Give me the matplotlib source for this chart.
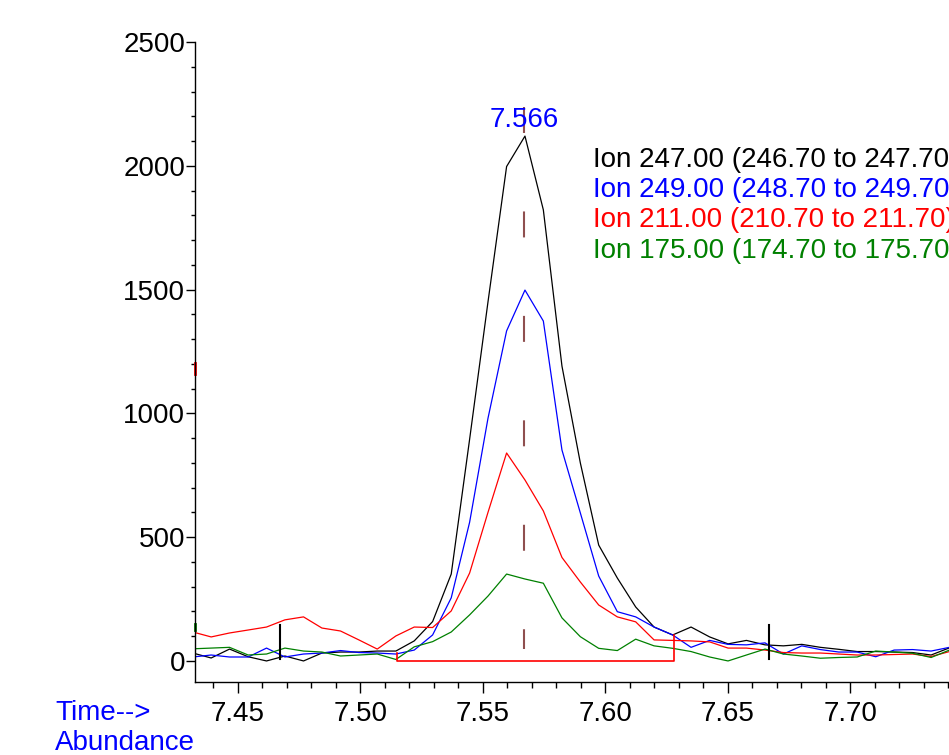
import numpy as np
import matplotlib
matplotlib.use("Agg")
import matplotlib.pyplot as plt
from matplotlib.ticker import MultipleLocator

plt.rcParams['font.family'] = ['Liberation Sans', 'DejaVu Sans']
plt.rcParams['lines.scale_dashes'] = False

# -----------------------------
# Data
# -----------------------------
times = [7.4316, 7.4391, 7.4466, 7.4542, 7.4617, 7.4692, 7.4768, 7.4843,
         7.4919, 7.4994, 7.5069, 7.5145, 7.5220, 7.5295, 7.5371, 7.5446,
         7.5521, 7.5597, 7.5672, 7.5747, 7.5823, 7.5898, 7.5973, 7.6049,
         7.6124, 7.6199, 7.6275, 7.6350, 7.6426, 7.6501, 7.6576, 7.6652,
         7.6727, 7.6802, 7.6878, 7.6953, 7.7028, 7.7104, 7.7179, 7.7254,
         7.7330, 7.7405]

ion_247 = [32, 12, 48, 17, 0, 20, 0, 32, 36, 36, 40, 40, 81, 159, 351, 895,
           1450, 1997, 2120, 1822, 1191, 800, 468, 335, 218, 137, 105, 137,
           97, 69, 83, 65, 61, 67, 55, 47, 38, 38, 36, 34, 24, 53]
ion_249 = [16, 24, 16, 16, 52, 16, 28, 32, 42, 34, 32, 28, 44, 105, 255, 560,
           980, 1333, 1498, 1373, 852, 598, 343, 199, 178, 137, 105, 55,
           83, 67, 65, 73, 28, 61, 46, 36, 36, 17, 44, 46, 40, 55]
ion_211 = [117, 97, 113, 125, 137, 166, 178, 133, 121, 85, 48, 101, 137, 135,
           202, 355, 600, 840, 731, 606, 418, 319, 226, 178, 158, 85, 83, 81,
           77, 52, 52, 44, 34, 32, 32, 28, 24, 24, 26, 28, 18, 38]
ion_175 = [49, 52, 55, 24, 28, 52, 40, 36, 20, 24, 28, 6, 57, 78, 117, 186,
           262, 351, 331, 314, 174, 98, 51, 42, 88, 61, 51, 38, 16, 0, 24,
           48, 28, 20, 11, 14, 16, 40, 36, 31, 14, 44]

series_names = ["Ion 247.00 (246.70 to 247.70)",
                "Ion 249.00 (248.70 to 249.70)",
                "Ion 211.00 (210.70 to 211.70)",
                "Ion 175.00 (174.70 to 175.70)"]
series_colors = ["black", "#0000ff", "#ff0000", "#008000"]

peak_time = 7.5668
peak_label = "7.566"
peak_label_y = 2185
peak_mark_top = 2237
peak_mark_bottom = 48

# integration baseline
base_start, base_end = 7.5148, 7.6282
base_start_h, base_end_h = 32, 105

# event markers
event_times = [7.467, 7.667]
event_low, event_high = 8, 145

XMIN, XMAX = 7.4325, 7.7403
YMIN, YMAX = -85, 2500
FS = 20

fig = plt.figure(figsize=(9.49, 7.55), dpi=100)
ax = fig.add_axes([195 / 949, 73 / 755, 1 - 195 / 949, 640 / 755])

for vals, col in zip([ion_247, ion_249, ion_211, ion_175], series_colors):
    ax.plot(times, vals, color=col, lw=0.9)

# integration baseline
ax.plot([base_start, base_start, base_end, base_end],
        [base_start_h, 0, 0, base_end_h], color="#ff0000", lw=1.2)

# apex marker
ax.plot([peak_time, peak_time], [peak_mark_top, peak_mark_bottom],
        color="#8f4f4f", lw=1.5, linestyle=(0, (18.7, 56.5)))
ax.text(peak_time, peak_label_y, peak_label, color="#0000ff", fontsize=FS,
        ha="center", va="center")

for et in event_times:
    ax.plot([et, et], [event_low, event_high], color="black", lw=1.5)

# small markers sitting on the y axis
ax.plot([XMIN, XMIN], [1160, 1205], color="#ff0000", lw=2.0, clip_on=False)
ax.plot([XMIN, XMIN], [125, 150], color="#008000", lw=2.0, clip_on=False)

legend_y = [0.8156, 0.769, 0.722, 0.673]
for name, col, yy in zip(series_names, series_colors, legend_y):
    ax.text(0.528, yy, name, color=col, fontsize=FS, ha="left", va="center",
            transform=ax.transAxes, clip_on=False)

ax.set_xlim(XMIN, XMAX)
ax.set_ylim(YMIN, YMAX)
ax.xaxis.set_major_locator(MultipleLocator(0.05))
ax.xaxis.set_minor_locator(MultipleLocator(0.01))
ax.yaxis.set_major_locator(MultipleLocator(500))
ax.yaxis.set_minor_locator(MultipleLocator(100))
ax.xaxis.set_major_formatter(matplotlib.ticker.FormatStrFormatter("%.2f"))

ax.spines["top"].set_visible(False)
ax.spines["right"].set_visible(False)
for s in ["left", "bottom"]:
    ax.spines[s].set_linewidth(1.0)

ax.tick_params(axis="x", which="major", direction="out", length=8, width=1,
               pad=6, labelsize=FS)
ax.tick_params(axis="x", which="minor", direction="out", length=4, width=1)
ax.tick_params(axis="y", which="major", direction="out", length=6.5, width=1,
               pad=0.5, labelsize=FS)
ax.tick_params(axis="y", which="minor", direction="out", length=3, width=1)

fig.text(55 / 949, 42 / 755, "Time-->", color="#0000ff", fontsize=FS,
         ha="left", va="center")
fig.text(55 / 949, 12 / 755, "Abundance", color="#0000ff", fontsize=FS,
         ha="left", va="center")

fig.savefig("out.png", dpi=100)
